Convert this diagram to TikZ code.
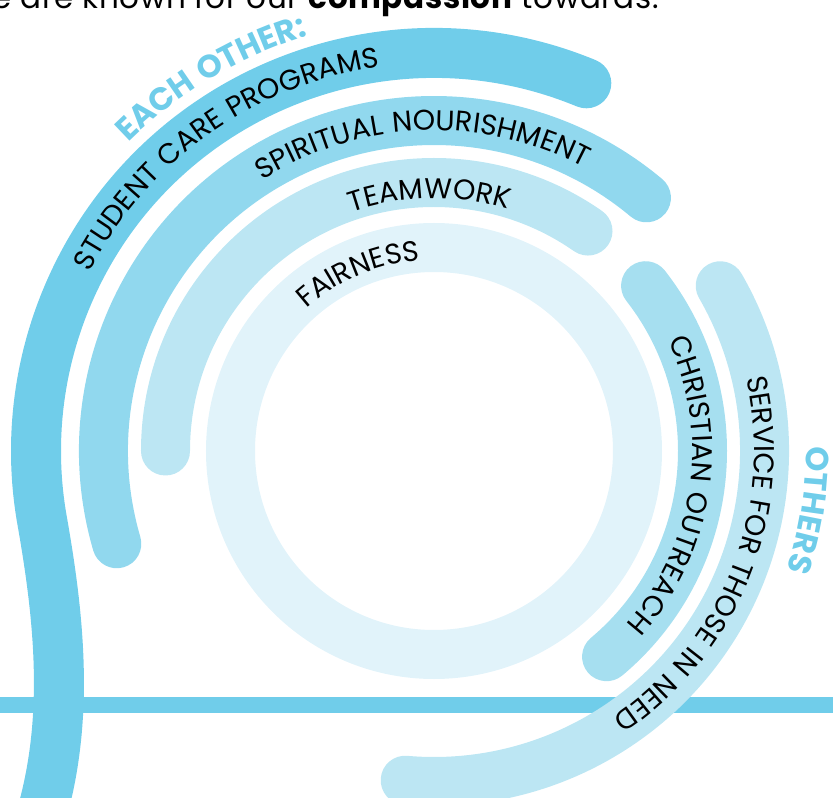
\documentclass[tikz,border=0pt]{standalone}
\usepackage{fontspec}
\setmainfont{Poppins}
\usetikzlibrary{decorations.text}
\definecolor{cA}{HTML}{70CDEA}
\definecolor{cB}{HTML}{91D8EE}
\definecolor{cC}{HTML}{A6DFF0}
\definecolor{cD}{HTML}{BCE6F3}
\definecolor{cE}{HTML}{E1F3FA}
\newcommand\lblfont{\fontsize{28.5}{28.5}\selectfont\addfontfeature{LetterSpace=5.5}}
\newcommand\hdfont{\fontsize{32}{32}\selectfont\bfseries\addfontfeature{LetterSpace=4}\color{cA}}
\newcommand\othfont{\fontsize{32}{32}\selectfont\bfseries\addfontfeature{LetterSpace=17}\color{cA}}
\begin{document}
\begin{tikzpicture}[x=1pt,y=1pt,
  band/.style={line width=49pt, line cap=round},
  onarc/.style={decorate, decoration={text along path, text align=center, text={#1}}}]
\useasboundingbox (-434,-347) rectangle (399,451);
\clip (-434,-347) rectangle (399,451);
% title
\node[anchor=base east, font=\fontsize{31}{31}\selectfont\addfontfeature{LetterSpace=2}, inner sep=0pt] (title) at (225,442) {We are known for our \textbf{compassion} towards:};
% rings
\draw[band, cE] (0,0) circle[radius=203.5];
\draw[band, cD] (180:268.5) arc[start angle=180, end angle=55, radius=268.5];
\draw[band, cB] (196.3:330.5) arc[start angle=196.3, end angle=50, radius=330.5];
\draw[line width=50pt, line cap=round, cA] (67.5:398) arc[start angle=67.5, end angle=190, radius=398]
  .. controls (-374.6,-167.6) and (-364,-269) .. (-394,-369);
\draw[cA, line width=16pt] (-434,-254) -- (399,-254);
\draw[band, cC] (38:268.5) arc[start angle=38, end angle=-50, radius=268.5];
\draw[band, cD] (30:330.5) arc[start angle=30, end angle=-95, radius=330.5];
% labels
\path[onarc={|\lblfont|STUDENT CARE PROGRAMS}] (185.35:388) arc[start angle=185.35, end angle=65.35, radius=388];
\path[onarc={|\lblfont|SPIRITUAL NOURISHMENT}] (152.2:320.5) arc[start angle=152.2, end angle=32.2, radius=320.5];
\path[onarc={|\lblfont|TEAMWORK}] (151:252.5) arc[start angle=151, end angle=31, radius=252.5];
\path[onarc={|\lblfont|FAIRNESS}] (173.1:191) arc[start angle=173.1, end angle=53.1, radius=191];
\path[onarc={|\lblfont|CHRISTIAN OUTREACH}] (51.6:258.5) arc[start angle=51.6, end angle=-68.4, radius=258.5];
\path[onarc={|\lblfont|SERVICE FOR THOSE IN NEED}] (38.5:320.5) arc[start angle=38.5, end angle=-81.5, radius=320.5];
\path[onarc={|\hdfont|EACH OTHER:}] (160.8:434) arc[start angle=160.8, end angle=80.8, radius=434];
\path[onarc={|\othfont|OTHERS}] (31:372) arc[start angle=31, end angle=-49, radius=372];
\end{tikzpicture}
\end{document}
